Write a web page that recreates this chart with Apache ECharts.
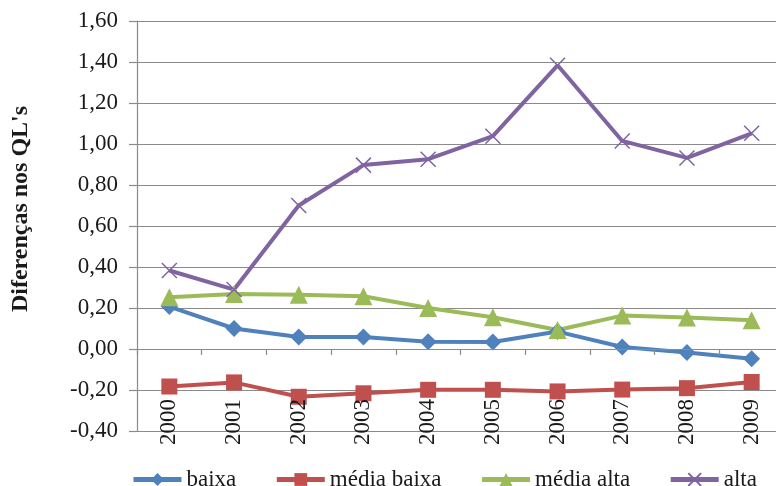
<!DOCTYPE html>
<html>
<head>
<meta charset="utf-8">
<script src="https://cdn.jsdelivr.net/npm/echarts@6/dist/echarts.min.js"></script>
<style>
html,body{margin:0;padding:0;background:#fff;}
#chart{width:776px;height:486px;}
</style>
</head>
<body>
<div id="chart"></div>
<script>
var categories = ['2000','2001','2002','2003','2004','2005','2006','2007','2008','2009'];
var baixa      = [0.207, 0.100, 0.059, 0.059, 0.035, 0.034, 0.085, 0.010, -0.017, -0.048];
var mediaBaixa = [-0.183, -0.163, -0.233, -0.216, -0.199, -0.199, -0.207, -0.198, -0.191, -0.161];
var mediaAlta  = [0.252, 0.268, 0.265, 0.257, 0.200, 0.155, 0.093, 0.163, 0.154, 0.140];
var alta       = [0.383, 0.290, 0.700, 0.897, 0.926, 1.038, 1.384, 1.015, 0.932, 1.052];
var seriesNames = ['baixa', 'média baixa', 'média alta', 'alta'];
var yAxisTitle = "Diferenças nos QL's";

var FONT = 'Liberation Serif';
var TEXT = '#1a1a1a';
var GRAY = '#8a8a8a';

function mk(name, data, color, symbol, size, extra) {
  var s = {
    name: name, type: 'line', data: data,
    symbol: symbol, symbolSize: size,
    lineStyle: { color: color, width: 4 },
    itemStyle: { color: color },
    emphasis: { disabled: true },
    animation: false
  };
  if (extra) { for (var k in extra) s[k] = extra[k]; }
  return s;
}

var chart = echarts.init(document.getElementById('chart'), null, { renderer: 'canvas' });
chart.setOption({
  backgroundColor: '#ffffff',
  animation: false,
  grid: { left: 137, right: -8, top: 21, bottom: 55, containLabel: false, outerBoundsMode: 'none' },
  legend: {
    left: 126, top: 463,
    itemWidth: 48, itemHeight: 16, itemGap: 38,
    lineStyle: { width: 5 },
    textStyle: { fontFamily: FONT, fontSize: 23, color: TEXT },
    data: seriesNames
  },
  xAxis: {
    type: 'category', data: categories, boundaryGap: true, z: 10,
    axisLine: { onZero: true, lineStyle: { color: GRAY, width: 1.2 } },
    axisTick: { show: true, length: 6, lineStyle: { color: GRAY, width: 1.2 } },
    axisLabel: { rotate: 90, margin: -32, fontFamily: FONT, fontSize: 23, color: TEXT }
  },
  yAxis: {
    type: 'value', min: -0.4, max: 1.6, interval: 0.2,
    name: yAxisTitle, nameLocation: 'middle', nameGap: 104, nameRotate: 90,
    nameTextStyle: { fontFamily: FONT, fontSize: 24, fontWeight: 'bold', color: TEXT, padding: [0, 0, 0, 34] },
    axisLine: { show: true, lineStyle: { color: GRAY, width: 1.2 } },
    axisTick: { show: true, length: 8, lineStyle: { color: GRAY, width: 1.2 } },
    splitLine: { show: true, lineStyle: { color: GRAY, width: 1.2 } },
    axisLabel: {
      margin: 19, fontFamily: FONT, fontSize: 23, color: TEXT,
      formatter: function (v) { return v.toFixed(2).replace('.', ','); }
    }
  },
  series: [
    mk(seriesNames[0], baixa, '#4F81BD', 'diamond', 17),
    mk(seriesNames[1], mediaBaixa, '#C0504D', 'rect', 16),
    mk(seriesNames[2], mediaAlta, '#9BBB59', 'triangle', 18),
    mk(seriesNames[3], alta, '#8064A2', 'path://M0,0L10,10M10,0L0,10', 15, {
      itemStyle: { color: '#8064A2', borderColor: '#8064A2', borderWidth: 1.5 }
    })
  ]
});
</script>
</body>
</html>
